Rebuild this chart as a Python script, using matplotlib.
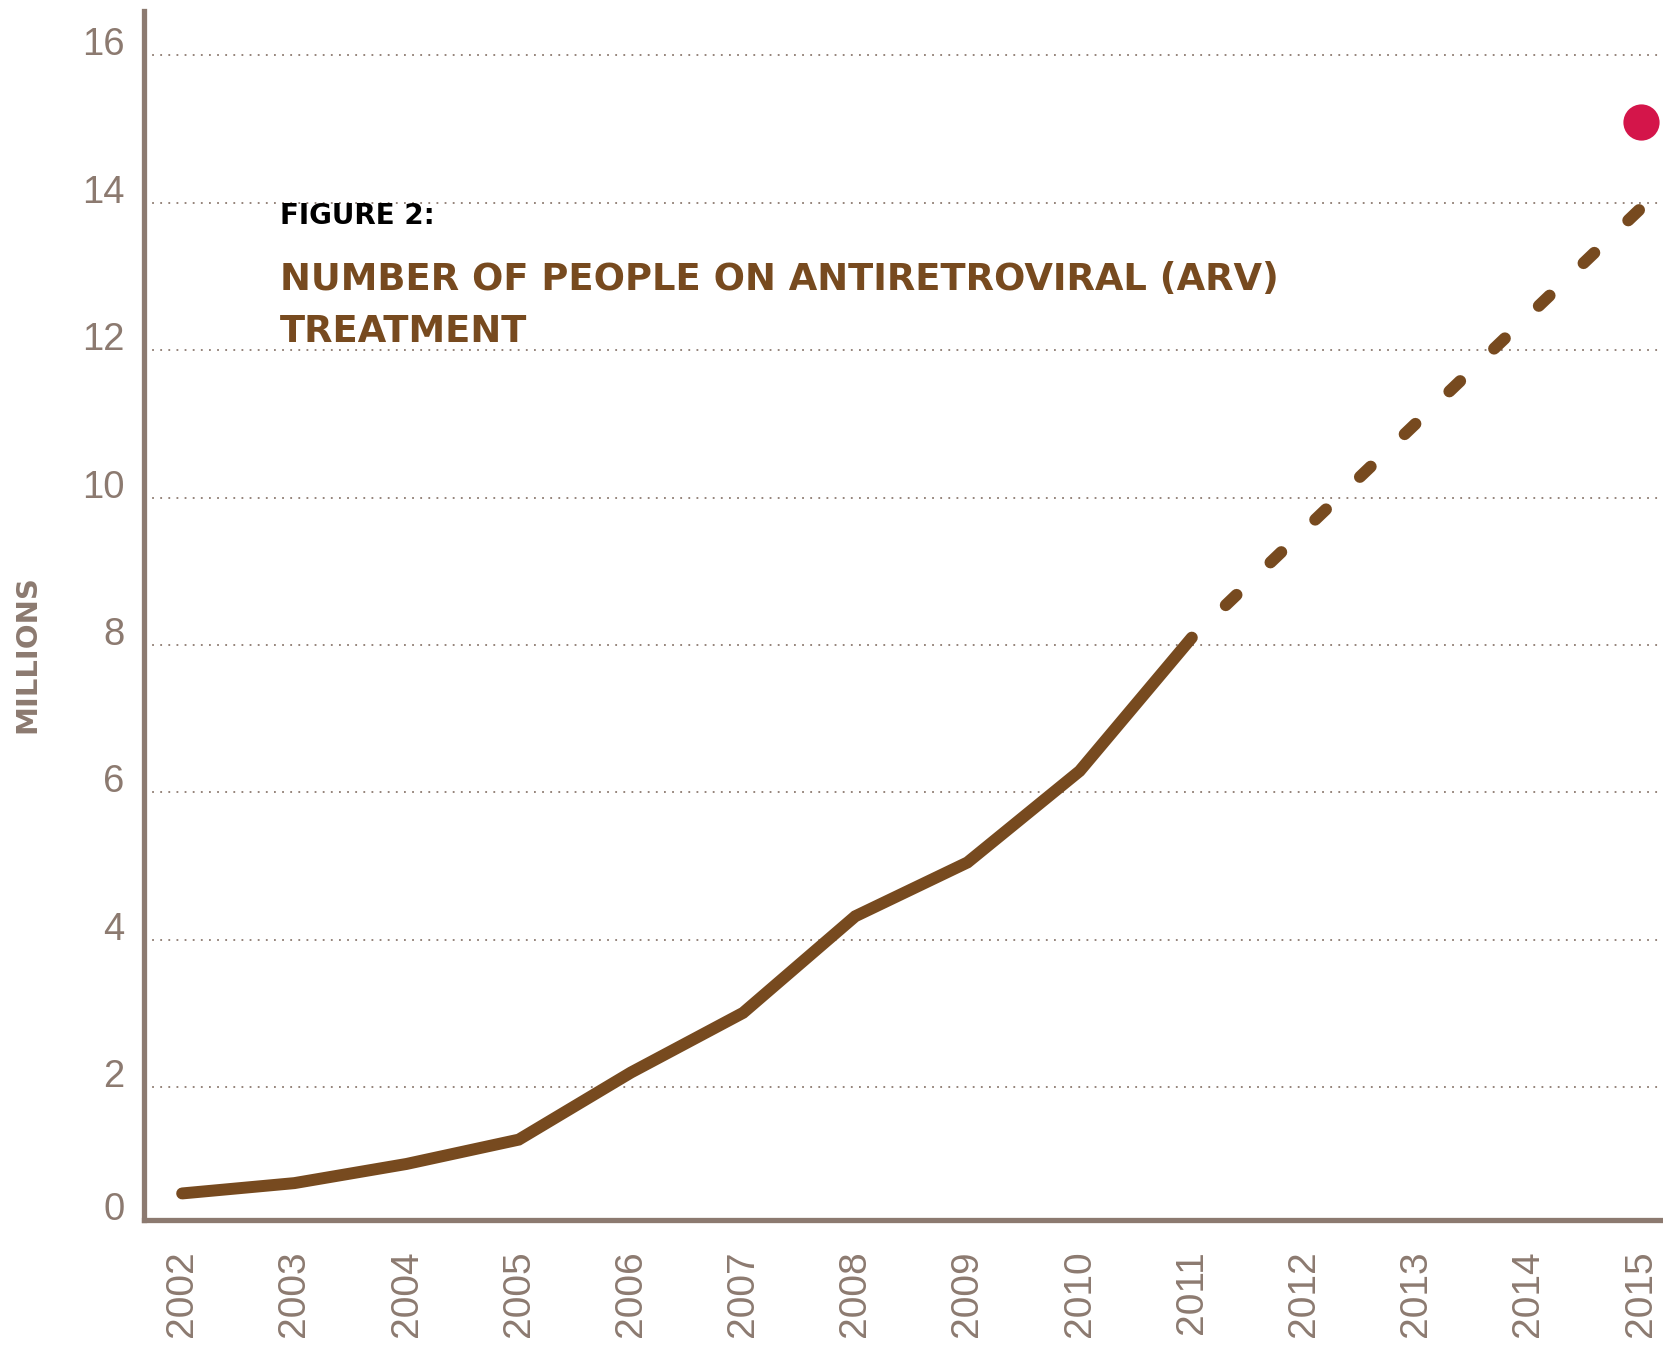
import matplotlib
matplotlib.use("Agg")
import matplotlib.pyplot as plt

years_actual = [2002, 2003, 2004, 2005, 2006, 2007, 2008, 2009, 2010, 2011]
people_actual = [0.56, 0.70, 0.96, 1.29, 2.20, 3.01, 4.32, 5.05, 6.29, 8.10]
years_projected = [2011, 2015]
people_projected = [8.10, 13.92]
target_year = [2015]
target_value = [15.1]
x_ticks = list(range(2002, 2016))
y_ticks = [0, 2, 4, 6, 8, 10, 12, 14, 16]

BROWN = "#774A1F"
TAUPE = "#8C7A70"
RED = "#D4154A"

fig = plt.figure(figsize=(16.63, 13.47), dpi=100)
ax = fig.add_axes([0.0866, 0.0943, 0.9134, 0.8975])

y_bottom = 0.2  # the baseline of the original chart sits slightly above zero
ax.set_xlim(2001.66, 2015.2)
ax.set_ylim(y_bottom, 16.6)

for v in y_ticks[1:]:
    ax.axhline(v, color=TAUPE, lw=1.3, ls=(0, (1, 3.5)), zorder=1)

ax.plot(years_actual, people_actual, color=BROWN, lw=8.6,
        solid_capstyle="round", solid_joinstyle="miter", zorder=3)
ax.plot(years_projected, people_projected, color=BROWN, lw=8.6,
        ls=(1.25, (1.25, 3.93)), dash_capstyle="round", zorder=3)
ax.scatter(target_year, target_value, s=680, color=RED, zorder=4, linewidths=0)

for s in ["top", "right"]:
    ax.spines[s].set_visible(False)
for s in ["left", "bottom"]:
    ax.spines[s].set_color(TAUPE)
    ax.spines[s].set_linewidth(3.8)

ax.set_yticks([y_bottom] + y_ticks[1:])
ax.set_yticklabels([str(v) for v in y_ticks])
ax.set_xticks(x_ticks)
ax.set_xticklabels([str(v) for v in x_ticks], rotation=90)
ax.tick_params(axis="y", length=0, pad=14, labelsize=27.5, labelcolor=TAUPE)
ax.tick_params(axis="x", length=0, pad=22, labelsize=28, labelcolor=TAUPE)
for lab in ax.get_yticklabels():
    lab.set_va("baseline")
    lab.set_family("Liberation Sans")
for lab in ax.get_xticklabels():
    lab.set_family("Liberation Sans")

fig.text(0.0162, 1 - 654 / 1347, "MILLIONS", rotation=90, ha="center", va="center",
         color=TAUPE, fontsize=21, fontweight="bold", family="DejaVu Sans")

fig.text(280 / 1663, 1 - 216 / 1347, "FIGURE 2:", ha="left", va="center",
         color="black", fontsize=20, fontweight="bold", family="DejaVu Sans")
fig.text(280 / 1663, 1 - 280 / 1347, "NUMBER OF PEOPLE ON ANTIRETROVIRAL (ARV)",
         ha="left", va="center", color=BROWN, fontsize=26.6, fontweight="bold",
         family="DejaVu Sans")
fig.text(280 / 1663, 1 - 332 / 1347, "TREATMENT",
         ha="left", va="center", color=BROWN, fontsize=26.6, fontweight="bold",
         family="DejaVu Sans")

fig.savefig("out.png", dpi=100, facecolor="white")
